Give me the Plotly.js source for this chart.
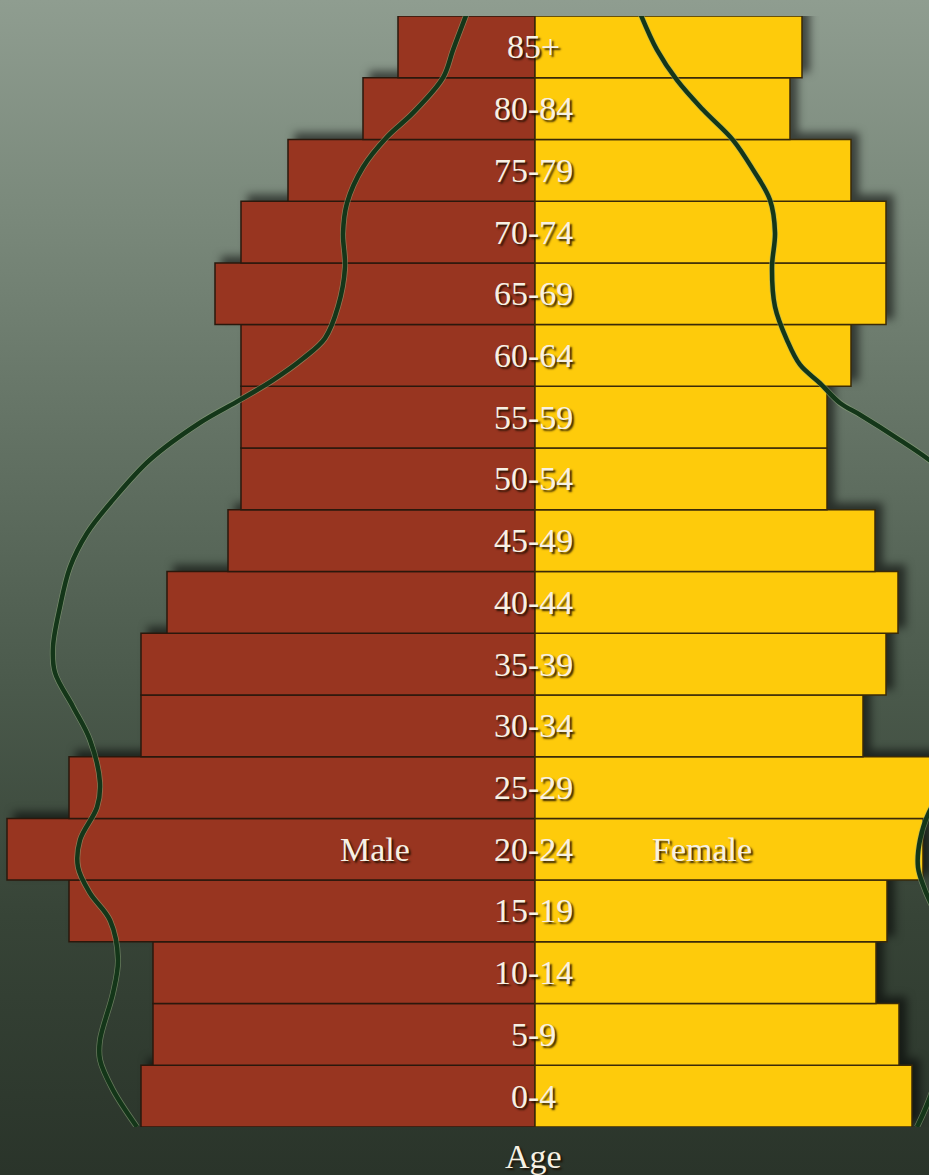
<!DOCTYPE html>
<html>
<head>
<meta charset="utf-8">
<script src="https://cdn.plot.ly/plotly-3.0.1.min.js"></script>
<style>
  html, body { margin: 0; padding: 0; }
  body {
    width: 929px; height: 1175px; overflow: hidden;
    background: linear-gradient(to bottom, #8f9d90 0%, #7a897b 18%, #627163 38%, #4b5a4c 58%, #374437 78%, #2a342a 100%);
  }
  #chart { width: 929px; height: 1175px; }
  .js-plotly-plot .barlayer { filter: drop-shadow(7px -6px 4px rgba(0,0,0,0.55)); }
</style>
</head>
<body>
<div id="chart"></div>
<script>
// Age groups (bottom to top)
const ageGroups = ["0-4","5-9","10-14","15-19","20-24","25-29","30-34","35-39","40-44",
                   "45-49","50-54","55-59","60-64","65-69","70-74","75-79","80-84","85+"];
// Population share (%) by age group
const maleValues   = [3.94, 3.82, 3.82, 4.66, 5.28, 4.66, 3.94, 3.94, 3.68,
                      3.07, 2.94, 2.94, 2.94, 3.20, 2.94, 2.47, 1.72, 1.37];
const femaleValues = [3.77, 3.64, 3.41, 3.52, 3.88, 4.00, 3.28, 3.51, 3.63,
                      3.40, 2.92, 2.92, 3.16, 3.51, 3.51, 3.16, 2.55, 2.67];

// Overlay outline curves (x in %, y in age-group position)
const leftCurveX  = [-0.68,-0.82,-0.92,-1.22,-1.48,-1.72,-1.88,-1.92,-1.90,-1.97,-2.10,-2.32,-2.62,-2.95,-3.35,-3.85,
                     -4.22,-4.48,-4.65,-4.75,-4.82,-4.80,-4.62,-4.45,-4.35,-4.38,-4.55,-4.57,-4.45,-4.25,-4.17,-4.22,
                     -4.35,-4.35,-4.22,-3.98];
const leftCurveY  = [17.55,16.95,16.50,15.93,15.54,15.05,14.47,13.98,13.43,12.79,12.28,11.95,11.60,11.28,10.91,10.31,
                     9.66,9.12,8.57,7.93,7.28,6.86,6.31,5.77,5.07,4.68,4.15,3.71,3.29,2.85,2.21,1.67,
                     0.91,0.59,0.10,-0.50];
const rightCurveX = [1.05,1.22,1.42,1.68,1.98,2.18,2.35,2.40,2.37,2.40,2.52,2.65,2.85,3.05,3.25,3.65,3.94,
                     4.30,4.60,4.77,4.80,4.65,4.15,3.94,3.85,3.83,3.90,4.05,4.15,4.10,3.94,3.82];
const rightCurveY = [17.55,16.95,16.46,15.98,15.49,15.01,14.52,13.99,13.43,12.79,12.25,11.85,11.55,11.23,11.04,10.63,10.31,
                     9.82,9.01,8.04,7.07,6.09,5.12,4.60,4.15,3.71,3.34,2.77,1.88,0.75,-0.06,-0.50];

const positions = ageGroups.map((_, i) => i);
const serif = "Liberation Serif, Times New Roman, serif";
const labelFont = { family: serif, size: 34, color: "#f7f1e4", shadow: "2px 2px 2px rgba(30,15,0,0.9)" };

const edge = { color: "rgba(150,175,130,0.55)", width: 6, shape: "spline" };
const core = { color: "#143619", width: 4.5, shape: "spline" };

const traces = [
  { type: "bar", orientation: "h", name: "Male", y: positions, x: maleValues.map(v => -v),
    marker: { color: "#983520", line: { color: "#2a180c", width: 1.5 } }, hoverinfo: "skip" },
  { type: "bar", orientation: "h", name: "Female", y: positions, x: femaleValues,
    marker: { color: "#fecb0b", line: { color: "#3a2a08", width: 1.5 } }, hoverinfo: "skip" },
  { type: "scatter", mode: "lines", x: leftCurveX, y: leftCurveY, line: edge, hoverinfo: "skip" },
  { type: "scatter", mode: "lines", x: leftCurveX, y: leftCurveY, line: core, hoverinfo: "skip" },
  { type: "scatter", mode: "lines", x: rightCurveX, y: rightCurveY, line: edge, hoverinfo: "skip" },
  { type: "scatter", mode: "lines", x: rightCurveX, y: rightCurveY, line: core, hoverinfo: "skip" }
];

const annotations = ageGroups.map((g, i) => ({
  x: 0, y: i, xref: "x", yref: "y", text: g, showarrow: false,
  xanchor: "center", yanchor: "middle", xshift: -2, font: labelFont
}));
annotations.push({ x: -1.60, y: 4, xref: "x", yref: "y", text: "Male", showarrow: false,
  xanchor: "center", yanchor: "middle", font: labelFont });
annotations.push({ x: 1.67, y: 4, xref: "x", yref: "y", text: "Female", showarrow: false,
  xanchor: "center", yanchor: "middle", font: labelFont });
annotations.push({ x: 0, y: -0.027, xref: "x", yref: "paper", text: "Age", showarrow: false,
  xanchor: "center", yanchor: "middle", xshift: -2, font: labelFont });

const layout = {
  width: 929, height: 1175,
  margin: { l: 0, r: 0, t: 16, b: 48, pad: 0 },
  paper_bgcolor: "rgba(0,0,0,0)", plot_bgcolor: "rgba(0,0,0,0)",
  barmode: "overlay", bargap: 0,
  showlegend: false,
  xaxis: { range: [-5.35, 3.94], visible: false, fixedrange: true },
  yaxis: { range: [-0.5, 17.5], visible: false, fixedrange: true },
  annotations: annotations
};

Plotly.newPlot("chart", traces, layout, { displayModeBar: false, staticPlot: true });
</script>
</body>
</html>
